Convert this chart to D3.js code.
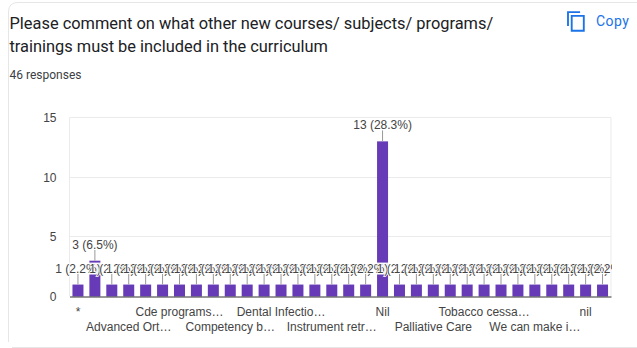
<!DOCTYPE html>
<html><head><meta charset="utf-8">
<script src="https://cdn.jsdelivr.net/npm/d3@7"></script>
<style>html,body{margin:0;padding:0;background:#fff;overflow:hidden}svg{display:block}</style>
</head><body><svg id="c" width="637" height="348"></svg>
<script>
const titleLines = ["Please comment on what other new courses/ subjects/ programs/", "trainings must be included in the curriculum"];
const responses = "46 responses";
const categories = ["*","","","Advanced Ort…","","","Cde programs…","","","Competency b…","","","Dental Infectio…","","","Instrument retr…","","","Nil","","","Palliative Care","","","Tobacco cessa…","","","We can make i…","","","nil",""];
const counts = [1,3,1,1,1,1,1,1,1,1,1,1,1,1,1,1,1,1,13,1,1,1,1,1,1,1,1,1,1,1,1,1];
const labels = counts.map(c => c + " (" + (c / 46 * 100).toFixed(1) + "%)");
const yTicks = [0,5,10,15];

const svg = d3.select("#c");
const box = {l:69.5, r:611, t:117.5, b:296.5};
const sans = "'Liberation Sans', Arial, sans-serif";

svg.append("path").attr("d","M8.5 342 V12 Q8.5 2.5 18 2.5 H637").attr("fill","none").attr("stroke","#e6e6e6");
svg.append("path").attr("d","M12 347.5 H637").attr("fill","none").attr("stroke","#e6e6e6");

svg.append("g").selectAll("text").data(titleLines).join("text")
  .attr("x",9.5).attr("y",(d,i)=>29+i*23).attr("font-family","Roboto").attr("font-size",16.4).attr("fill","#202124").text(d=>d);
svg.append("text").attr("x",9.5).attr("y",79).attr("font-family","Roboto").attr("font-size",12).attr("fill","#3c4043").text(responses);

svg.append("path").attr("d","M16 1H2V17H4V3H16V1ZM21 5H6V23H21V5ZM19 21H8V7H19V21Z")
  .attr("transform","translate(565.2,10.3) scale(0.93)").attr("fill","#1a73e8");
svg.append("text").attr("x",596).attr("y",26).attr("font-family","Roboto").attr("font-size",14).attr("letter-spacing",0.45).attr("fill","#1a73e8").text("Copy");

const x = d3.scaleBand().domain(counts.map((d,i)=>i)).range([box.l,box.r]);
const y = d3.scaleLinear().domain([0,15]).range([box.b,box.t]);
const barW = 11;

const plot = svg.append("g");
plot.append("g").selectAll("line").data(yTicks.filter(d=>d>0)).join("line")
  .attr("x1",box.l).attr("x2",box.r).attr("y1",d=>Math.floor(y(d))+.5).attr("y2",d=>Math.floor(y(d))+.5).attr("stroke","#ebebeb");
plot.append("line").attr("x1",box.l).attr("x2",box.l).attr("y1",box.t).attr("y2",box.b).attr("stroke","#ebebeb");
plot.append("line").attr("x1",box.r).attr("x2",box.r).attr("y1",box.t).attr("y2",box.b).attr("stroke","#ebebeb");

const yAxis = plot.append("g").attr("transform",`translate(${box.l},0)`)
  .call(d3.axisLeft(y).tickValues(yTicks).tickSize(0).tickPadding(13));
yAxis.select(".domain").remove();
yAxis.selectAll("text").attr("font-family",sans).attr("font-size",12).attr("fill","#444");

plot.append("g").selectAll("rect").data(counts).join("rect")
  .attr("x",(d,i)=>x(i)+x.bandwidth()/2-barW/2).attr("width",barW)
  .attr("y",d=>y(d)).attr("height",d=>y(0)-y(d)).attr("fill","#673ab7");

const xAxis = plot.append("g").attr("transform",`translate(0,${box.b})`)
  .call(d3.axisBottom(x).tickValues(counts.map((d,i)=>i).filter(i=>categories[i])).tickFormat(i=>categories[i]).tickSize(0).tickSizeOuter(0));
xAxis.select(".domain").attr("stroke","#333").attr("stroke-width",1.2);
xAxis.selectAll("text").attr("font-family",sans).attr("font-size",12).attr("fill","#444")
  .attr("y",(i)=>(i/3)%2===0?10.5:26).attr("dy","0.71em");

svg.append("clipPath").attr("id","pc").append("rect").attr("x",0).attr("y",0).attr("width",box.r+1).attr("height",348);
const ann = plot.append("g").attr("clip-path","url(#pc)");
// white backing under the row of labels, which is what cuts through the taller bars
ann.append("g").selectAll("rect").data(counts.map((c,i)=>i).filter(i=>counts[i]>1)).join("rect")
  .attr("x",i=>x(i)+x.bandwidth()/2-barW/2-1).attr("width",barW+2)
  .attr("y",y(1)-22).attr("height",12).attr("fill","#fff").attr("opacity",0.9);
counts.forEach((c,i)=>{
  const cx = x(i)+x.bandwidth()/2;
  ann.append("line").attr("x1",cx).attr("x2",cx).attr("y1",y(c)-11).attr("y2",y(c)).attr("stroke","#999");
  ann.append("text").attr("x",cx).attr("y",y(c)-12).attr("text-anchor","middle")
    .attr("font-family",sans).attr("font-size",12).attr("fill","#444")
    .attr("stroke","#fff").attr("stroke-width",1.5).attr("paint-order","stroke").text(labels[i]);
});
</script></body></html>
